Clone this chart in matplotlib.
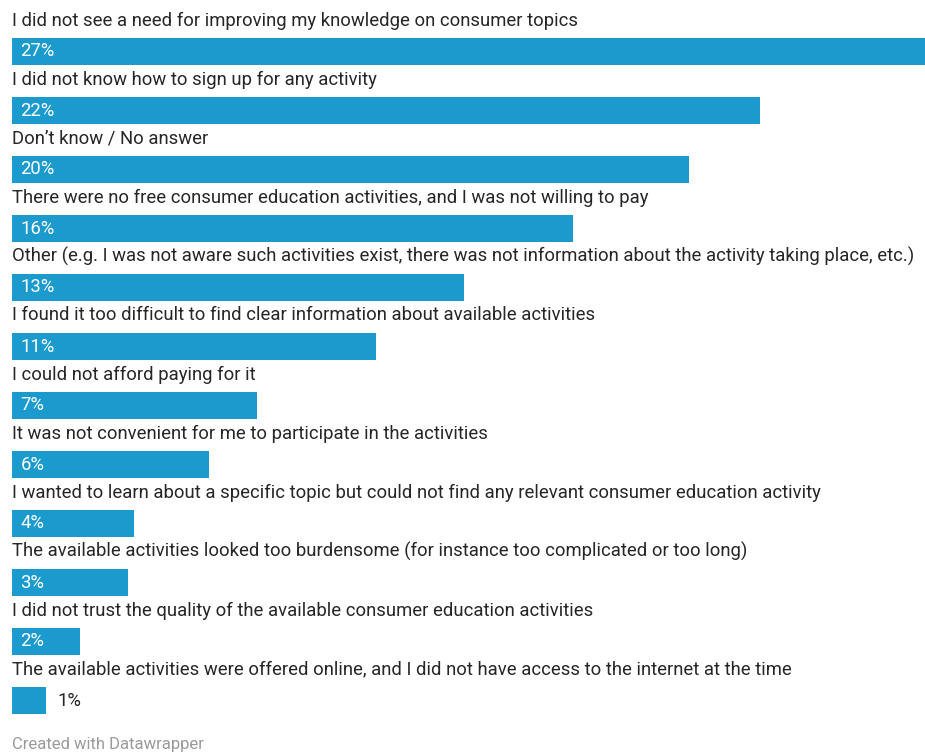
import matplotlib
matplotlib.use("Agg")
import matplotlib.pyplot as plt

plt.rcParams['font.family'] = ['Roboto', 'DejaVu Sans']

reasons = [
    "I did not see a need for improving my knowledge on consumer topics",
    "I did not know how to sign up for any activity",
    "Don\u2019t know / No answer",
    "There were no free consumer education activities, and I was not willing to pay",
    "Other (e.g. I was not aware such activities exist, there was not information about the activity taking place, etc.)",
    "I found it too difficult to find clear information about available activities",
    "I could not afford paying for it",
    "It was not convenient for me to participate in the activities",
    "I wanted to learn about a specific topic but could not find any relevant consumer education activity",
    "The available activities looked too burdensome (for instance too complicated or too long)",
    "I did not trust the quality of the available consumer education activities",
    "The available activities were offered online, and I did not have access to the internet at the time",
]
shares = [27.2, 22.0, 19.9, 16.49, 13.3, 10.7, 7.2, 5.8, 3.6, 3.4, 2.0, 1.0]

bar_color = '#1b9bcd'
text_color = '#262626'

W, H = 925, 753
fig = plt.figure(figsize=(W / 100, H / 100), dpi=100)
ax = fig.add_axes([12 / W, 0, 1 - 12 / W, 1])

row = 59.0          # pixels between rows
first = 51.5        # centre of first bar, pixels from top
ax.set_xlim(0, 26.85)
ax.set_ylim((H - first) / row, -first / row)
ax.axis('off')

rows = range(len(reasons))
ax.barh(list(rows), shares, height=27 / row, color=bar_color, linewidth=0)

for i, (label, v) in enumerate(zip(reasons, shares)):
    ax.text(0, i - 31 / row, label, ha='left', va='center',
            fontsize=13.3, color=text_color)
    txt = f"{v:.0f}%"
    if v < 1.5:
        ax.text(v + 0.35, i, txt, ha='left', va='center',
                fontsize=13.3, color=text_color)
    else:
        ax.text(0.25, i, txt, ha='left', va='center',
                fontsize=13.3, color='white')

fig.text(12 / W, 1 - 737 / H, "Created with Datawrapper", ha='left', va='top',
         fontsize=12, color='#9a9a9a')

fig.savefig("out.png", dpi=100, facecolor='white')
